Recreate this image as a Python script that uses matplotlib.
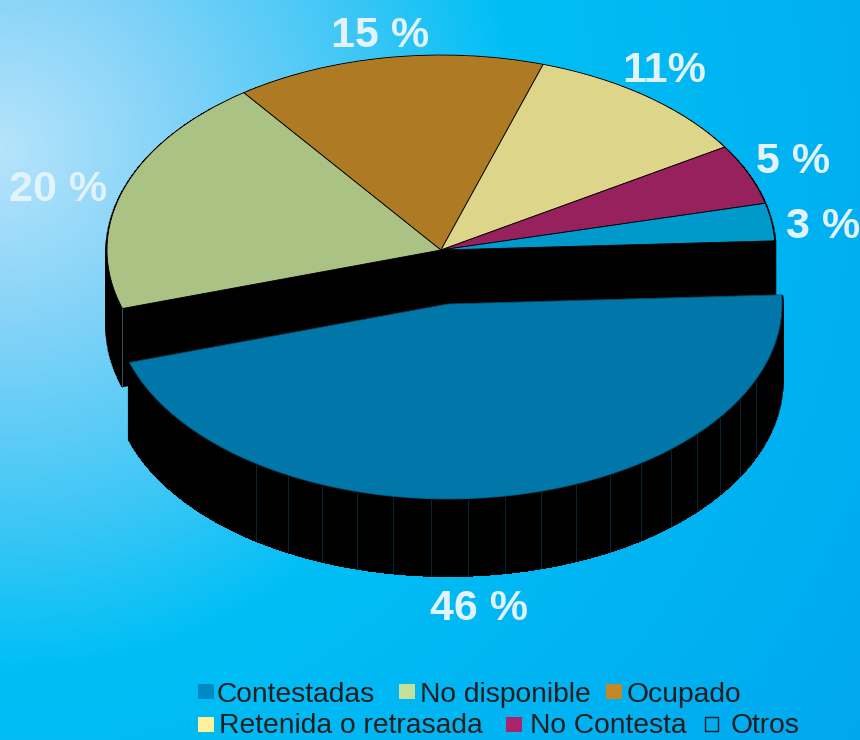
import numpy as np
from matplotlib import pyplot as plt
from matplotlib.colors import LinearSegmentedColormap
from matplotlib.patches import Rectangle
from matplotlib.transforms import Affine2D

# slices, clockwise from the right edge of the big piece
slices = ["Contestadas", "No disponible", "Ocupado", "Retenida o retrasada", "No Contesta", "Otros"]
percents = [45.9, 19.8, 15.0, 11.2, 5.0, 3.1]
percent_labels = ["46 %", "20 %", "15 %", "11%", "5 %", "3 %"]
top_colors = ["#0077A8", "#ABC285", "#AF7A24", "#DDD68A", "#96215C", "#0099CC"]
legend_colors = ["#0088C0", "#C3DF99", "#C68826", "#FFF29B", "#A9246A", "none"]

label_pos = [(479, 620), (58, 201), (380, 47), (664, 82), (793, 173), (823, 238)]
swatch_x = [197.5, 399, 606, 197.5, 506, 705]
swatch_y = [684, 684, 684, 717, 717, 717]
legend_text_x = [217, 420, 627, 219, 530, 731]
legend_text_y = [702, 702, 702, 733, 733, 733]

start_angle = 2.7
cx, cy = 441, 250
rx, ry = 334, 195
piece_shift = (7, 54)
depth = 78

plt.rcParams['font.family'] = ['Liberation Sans', 'DejaVu Sans']

fig = plt.figure(figsize=(8.6, 7.4), dpi=100)
ax = fig.add_axes([0, 0, 1, 1])

# background
xx, yy = np.meshgrid(np.arange(860), np.arange(740))
dist = np.sqrt(xx ** 2 + (yy - 150.0) ** 2) / 1100.0
bg = LinearSegmentedColormap.from_list("bg", [(0, "#B5E4FB"), (0.155, "#85D3F8"), (0.32, "#45C8F6"),
                                              (0.47, "#00BFF5"), (1, "#00A5EE")])
ax.imshow(dist, cmap=bg, vmin=0, vmax=1, extent=(0, 860, 740, 0), aspect="auto", zorder=0)


def rim(a1, a2, x0, y0, n=3000):
    a = np.radians(np.linspace(a1, a2, n))
    return x0 + rx * np.cos(a), y0 - ry * np.sin(a)


# angles of the slice edges, going clockwise
edges = start_angle - np.cumsum([0] + percents) * 3.6

# black sides of the back part
x, y = rim(edges[1], edges[-1], cx, cy)
ax.vlines(x, y, y + depth, color="black", lw=1.5, zorder=1)
for xe, ye in [(x[0], y[0]), (x[-1], y[-1])]:
    ax.fill([cx, xe, xe, cx], [cy, ye, ye + depth, cy + depth], color="black", zorder=1)
ax.plot([x[0], x[0]], [y[0], y[0] + depth], color="#46606A", lw=0.6, zorder=1.5)

# black side of the big piece
x0, y0 = cx + piece_shift[0], cy + piece_shift[1]
x, y = rim(edges[0], edges[1], x0, y0)
ax.vlines(x, y, y + depth, color="black", lw=1.5, zorder=3)
for a in np.arange(-125.0, -20.0, 6.4):
    x1, y1 = rim(a, a, x0, y0, n=1)
    ax.plot([x1[0], x1[0]], [y1[0] + 1, y1[0] + depth - 1], color="#0A2C3C", lw=0.6, zorder=3.5)

# the top faces, pie with radius 1 moved onto the ellipse
wedges, _ = ax.pie(percents, colors=top_colors, startangle=start_angle, counterclock=False,
                   wedgeprops=dict(edgecolor="black", linewidth=0.6))
for i, w in enumerate(wedges):
    if i == 0:
        w.set_edgecolor("#00506F")
        tr = Affine2D().scale(rx, -ry).translate(x0, y0)
        w.set_zorder(4)
    else:
        tr = Affine2D().scale(rx, -ry).translate(cx, cy)
        w.set_zorder(2)
    w.set_transform(tr + ax.transData)

for s, pos in zip(percent_labels, label_pos):
    ax.text(pos[0], pos[1], s, fontsize=31, fontweight="bold", color="#E3F3FD", ha="center", va="baseline", zorder=6)

# legend written out by hand because of the two uneven rows
for name, col, sx, sy, tx, ty in zip(slices, legend_colors, swatch_x, swatch_y, legend_text_x, legend_text_y):
    if col == "none":
        ax.add_patch(Rectangle((sx, sy), 13, 14, facecolor="none", edgecolor="#231F20", lw=1, zorder=6))
    else:
        ax.add_patch(Rectangle((sx, sy), 16, 15, facecolor=col, edgecolor="none", zorder=6))
    ax.text(tx, ty, name, fontsize=20.3, color="#231F20", ha="left", va="baseline", zorder=6)

ax.set_xlim(0, 860)
ax.set_ylim(740, 0)
ax.set_aspect("auto")
ax.axis("off")
fig.savefig("out.png", dpi=100)
